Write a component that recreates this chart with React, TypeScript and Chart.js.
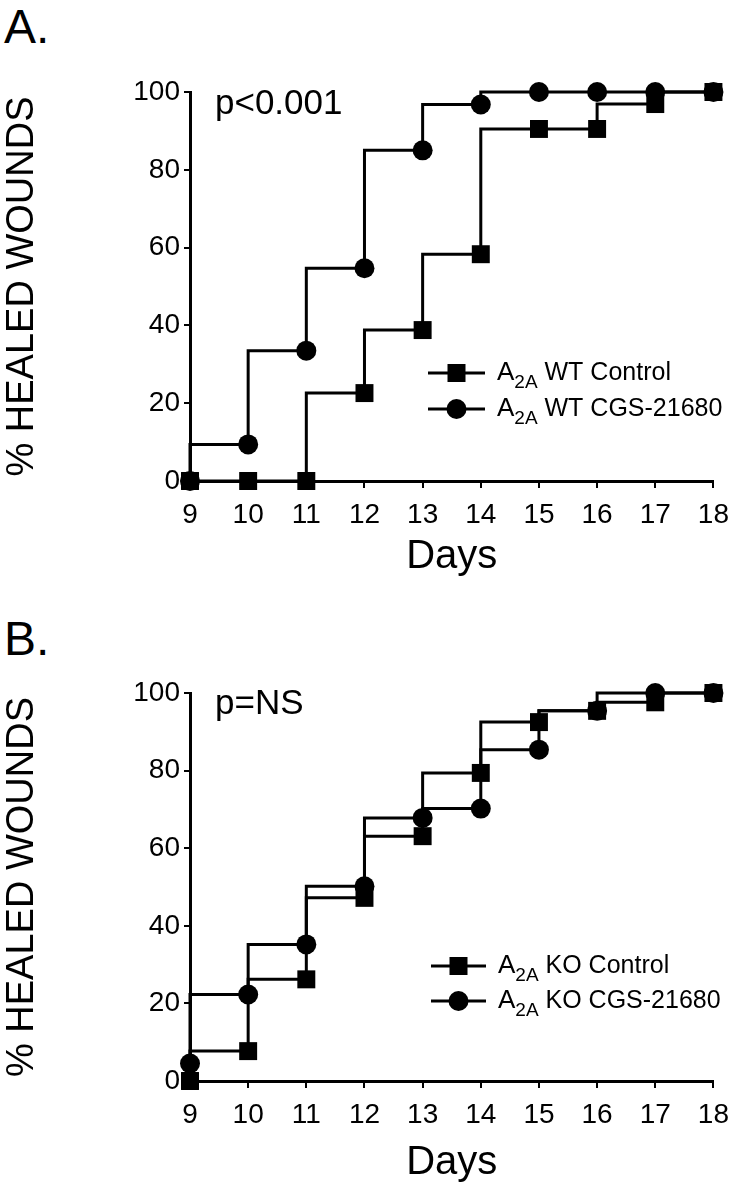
import React, { useEffect, useRef } from 'react';
import { Chart, registerables } from 'chart.js';

Chart.register(...registerables);

const FONT = "'Liberation Sans', Arial, Helvetica, sans-serif";

// ---- data ----
const days = [9, 10, 11, 12, 13, 14, 15, 16, 17, 18];
const yTicks = [0, 20, 40, 60, 80, 100];

const wtControl = [0, 0, 0, 22.6, 38.8, 58.3, 90.5, 90.5, 96.9, 100];
const wtCgs = [0, 9.4, 33.5, 54.7, 85, 96.8, 100, 100, 100, 100];

const koControl = [0, 7.7, 26.2, 47.2, 63.1, 79.4, 92.5, 95.4, 97.6, 100];
const koCgs = [4.5, 22.3, 35.2, 50.2, 67.8, 70.2, 85.4, 95.4, 100, 100];

const xTitle = 'Days';
const yTitle = '% HEALED WOUNDS';

const labelsA = [
  { main: 'A', sub: '2A', rest: ' WT Control', style: 'rect' },
  { main: 'A', sub: '2A', rest: ' WT CGS-21680', style: 'circle' },
];
const labelsB = [
  { main: 'A', sub: '2A', rest: ' KO Control', style: 'rect' },
  { main: 'A', sub: '2A', rest: ' KO CGS-21680', style: 'circle' },
];

const pTextA = 'p<0.001';
const pTextB = 'p=NS';

type Series = { label: string; values: number[]; style: string };

type PanelProps = {
  top: number;
  height: number;
  series: Series[];
  legend: { main: string; sub: string; rest: string; style: string }[];
  pText: string;
  padTop: number;
  axisH: number;
  padBottom: number;
  legendX0: number;
  legendX1: number;
  legendTextX: number;
  legendRows: number[];
  pX: number;
  pY: number;
};

function drawMarker(ctx: CanvasRenderingContext2D, style: string, x: number, y: number) {
  ctx.fillStyle = '#000';
  if (style === 'rect') {
    ctx.fillRect(x - 9, y - 9, 18, 18);
  } else {
    ctx.beginPath();
    ctx.arc(x, y, 10, 0, Math.PI * 2);
    ctx.fill();
  }
}

function Panel(p: PanelProps) {
  const ref = useRef<HTMLCanvasElement>(null);

  useEffect(() => {
    const decor = {
      id: 'decor',
      afterDraw(chart: any) {
        const ctx: CanvasRenderingContext2D = chart.ctx;
        ctx.save();
        // p-value text
        ctx.fillStyle = '#000';
        ctx.font = `35px ${FONT}`;
        ctx.textBaseline = 'alphabetic';
        ctx.textAlign = 'left';
        ctx.fillText(p.pText, p.pX, p.pY);
        // legend
        p.legend.forEach((it, i) => {
          const y = p.legendRows[i];
          ctx.strokeStyle = '#000';
          ctx.lineWidth = 3;
          ctx.beginPath();
          ctx.moveTo(p.legendX0, y);
          ctx.lineTo(p.legendX1, y);
          ctx.stroke();
          drawMarker(ctx, it.style, (p.legendX0 + p.legendX1) / 2, y);
          ctx.fillStyle = '#000';
          let x = p.legendTextX;
          const base = y + 7;
          ctx.font = `26px ${FONT}`;
          ctx.fillText(it.main, x, base);
          x += ctx.measureText(it.main).width;
          ctx.font = `19px ${FONT}`;
          ctx.fillText(it.sub, x, base + 8);
          x += ctx.measureText(it.sub).width;
          ctx.font = `25px ${FONT}`;
          ctx.fillText(it.rest, x, base);
        });
        ctx.restore();
      },
    };

    const chart = new Chart(ref.current as HTMLCanvasElement, {
      type: 'line',
      data: {
        datasets: p.series.map((s) => ({
          label: s.label,
          data: days.map((d, i) => ({ x: d, y: s.values[i] })),
          stepped: 'after' as const,
          borderColor: '#000',
          backgroundColor: '#000',
          borderWidth: 3,
          pointStyle: s.style as any,
          pointRadius: s.style === 'rect' ? 12.7 : 10,
          pointHoverRadius: s.style === 'rect' ? 12.7 : 10,
          pointBackgroundColor: '#000',
          pointBorderColor: '#000',
          pointBorderWidth: 0,
          fill: false,
          clip: false as any,
        })),
      },
      options: {
        animation: false,
        responsive: false,
        maintainAspectRatio: false,
        events: [],
        layout: { padding: { left: 0, right: 17, top: p.padTop, bottom: p.padBottom } },
        plugins: {
          legend: { display: false },
          tooltip: { enabled: false },
          title: { display: false },
        },
        scales: {
          x: {
            type: 'linear',
            min: 9,
            max: 18,
            afterBuildTicks: (s: any) => {
              s.ticks = days.map((v) => ({ value: v }));
            },
            afterFit: (s: any) => {
              s.height = p.axisH;
            },
            grid: {
              drawOnChartArea: false,
              drawTicks: true,
              tickLength: 7,
              color: '#000',
              lineWidth: 2,
            },
            border: { display: true, color: '#000', width: 3 },
            ticks: {
              color: '#000',
              font: { family: FONT, size: 28 },
              padding: 10,
              autoSkip: false,
              maxRotation: 0,
              minRotation: 0,
              callback: (v: any) => String(v),
            },
            title: {
              display: true,
              text: xTitle,
              color: '#000',
              font: { family: FONT, size: 40 },
              padding: { top: 0, bottom: 0 },
            },
          },
          y: {
            type: 'linear',
            min: 0,
            max: 100,
            afterBuildTicks: (s: any) => {
              s.ticks = yTicks.map((v) => ({ value: v }));
            },
            afterFit: (s: any) => {
              s.width = 190;
            },
            grid: {
              drawOnChartArea: false,
              drawTicks: true,
              tickLength: 6,
              color: '#000',
              lineWidth: 2,
            },
            border: { display: true, color: '#000', width: 3 },
            ticks: {
              color: '#000',
              font: { family: FONT, size: 28 },
              padding: 4,
              callback: (v: any) => String(v),
            },
            title: {
              display: true,
              text: yTitle,
              color: '#000',
              font: { family: FONT, size: 38 },
              padding: { top: 0, bottom: 0 },
            },
          },
        },
      },
      plugins: [decor],
    });
    return () => chart.destroy();
  }, []);

  return (
    <canvas
      ref={ref}
      width={739}
      height={p.height}
      style={{ position: 'absolute', left: 0, top: p.top, width: 739, height: p.height }}
    />
  );
}

const letterStyle = (top: number): React.CSSProperties => ({
  position: 'absolute',
  left: 4,
  top,
  fontFamily: FONT,
  fontSize: 48,
  lineHeight: '48px',
  color: '#000',
});

export default function App() {
  return (
    <div
      style={{
        position: 'absolute',
        left: 0,
        top: 0,
        width: 739,
        height: 1199,
        background: '#fff',
        overflow: 'hidden',
      }}
    >
      <div style={letterStyle(3)}>A.</div>
      <div style={letterStyle(615)}>B.</div>
      <Panel
        top={0}
        height={600}
        series={[
          { label: 'A2A WT CGS-21680', values: wtCgs, style: 'circle' },
          { label: 'A2A WT Control', values: wtControl, style: 'rect' },
        ]}
        legend={labelsA}
        pText={pTextA}
        padTop={92}
        axisH={100}
        padBottom={19}
        legendX0={428}
        legendX1={485}
        legendTextX={497}
        legendRows={[373, 409]}
        pX={215}
        pY={114}
      />
      <Panel
        top={600}
        height={599}
        series={[
          { label: 'A2A KO CGS-21680', values: koCgs, style: 'circle' },
          { label: 'A2A KO Control', values: koControl, style: 'rect' },
        ]}
        legend={labelsB}
        pText={pTextB}
        padTop={93}
        axisH={106}
        padBottom={12}
        legendX0={431}
        legendX1={486}
        legendTextX={498}
        legendRows={[366, 401]}
        pX={215}
        pY={114}
      />
    </div>
  );
}
